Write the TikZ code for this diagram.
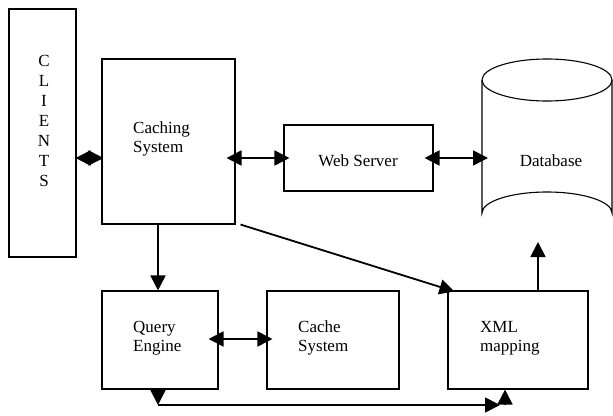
\documentclass[tikz,border=0pt]{standalone}
\usepackage{fontspec}
\setmainfont{Liberation Serif}
\usetikzlibrary{arrows.meta,calc}
\begin{document}
\begin{tikzpicture}[x=1pt,y=-1pt,
  box/.style={draw,line width=1.1pt,inner sep=0pt},
  lbl/.style={inner sep=0pt,font=\fontsize{17}{19}\selectfont},
  tip/.tip={Triangle[length=15pt,width=15pt]},
  arr/.style={line width=1.8pt,-tip},
  dbl/.style={line width=1.8pt,tip-tip}]
\useasboundingbox (0,0) rectangle (613,415);
% boxes
\node[box,minimum width=67pt,minimum height=248pt] (cl) at (42.5,133) {};
\node[box,minimum width=133pt,minimum height=165pt] (cs) at (168.5,141.5) {};
\node[box,minimum width=149pt,minimum height=66pt] (ws) at (358.5,158) {};
\node[box,minimum width=116pt,minimum height=98pt] (qe) at (160,340) {};
\node[box,minimum width=132pt,minimum height=98pt] (cy) at (333,340) {};
\node[box,minimum width=140pt,minimum height=98pt] (xm) at (518,340) {};
% database cylinder
\draw[line width=1.1pt] (482,80) -- (482,213) arc[start angle=180,end angle=360,x radius=65,y radius=21] -- (612,80);
\draw[line width=1.1pt] (547,80) ellipse[x radius=65,y radius=21];
\coordinate (dbw) at (482,158);
\coordinate (dbs) at (538,234);
% texts
\foreach \ch [count=\i] in {C,L,I,E,N,T,S}
  \node[lbl,anchor=base] (cl\i) at (44,{46+20*\i}) {\ch};
\node[lbl,anchor=base west] (cst1) at (133,133) {Caching};
\node[lbl,anchor=base west] (cst2) at (133,152) {System};
\node[lbl,anchor=base] (wst) at (358,166) {Web Server};
\node[lbl,anchor=base] (dbt) at (551,166) {Database};
\node[lbl,anchor=base west] (qet1) at (133,332) {Query};
\node[lbl,anchor=base west] (qet2) at (133,351) {Engine};
\node[lbl,anchor=base west] (cyt1) at (298,332) {Cache};
\node[lbl,anchor=base west] (cyt2) at (298,351) {System};
\node[lbl,anchor=base west] (xmt1) at (480,332) {XML};
\node[lbl,anchor=base west] (xmt2) at (480,351) {mapping};
% connectors
\draw[dbl,shorten <=-1pt,shorten >=-2pt] (cl.east |- ws.west) -- (cs.west |- ws.west);
\draw[dbl,shorten <=-9pt,shorten >=-6pt] (cs.east |- ws.west) -- (ws.west);
\draw[dbl,shorten <=-9pt,shorten >=-6pt] (ws.east) -- (dbw);
\draw[arr] (cs.south -| 158,0) -- (qe.north -| 158,0);
\coordinate (c1) at ($(cs.south east)+(5,0)$);
\coordinate (c2) at ($(xm.north west)+(7,1)$);
\draw[arr] (c1) -- (c2);
\draw[arr,shorten >=8pt] (xm.north -| dbs) -- (dbs);
\draw[dbl,shorten <=-10pt,shorten >=-6pt] (qe.east |- 0,339) -- (cy.west |- 0,339);
\coordinate (b1) at (158,405);
\coordinate (b2) at (500,405);
\coordinate (b3) at (505,405);
\draw[arr] (qe.south -| b1) -- (b1);
\draw[arr] (b1) -- (b2);
\draw[arr] (b3) -- (b3 |- xm.south);
\end{tikzpicture}
\end{document}
